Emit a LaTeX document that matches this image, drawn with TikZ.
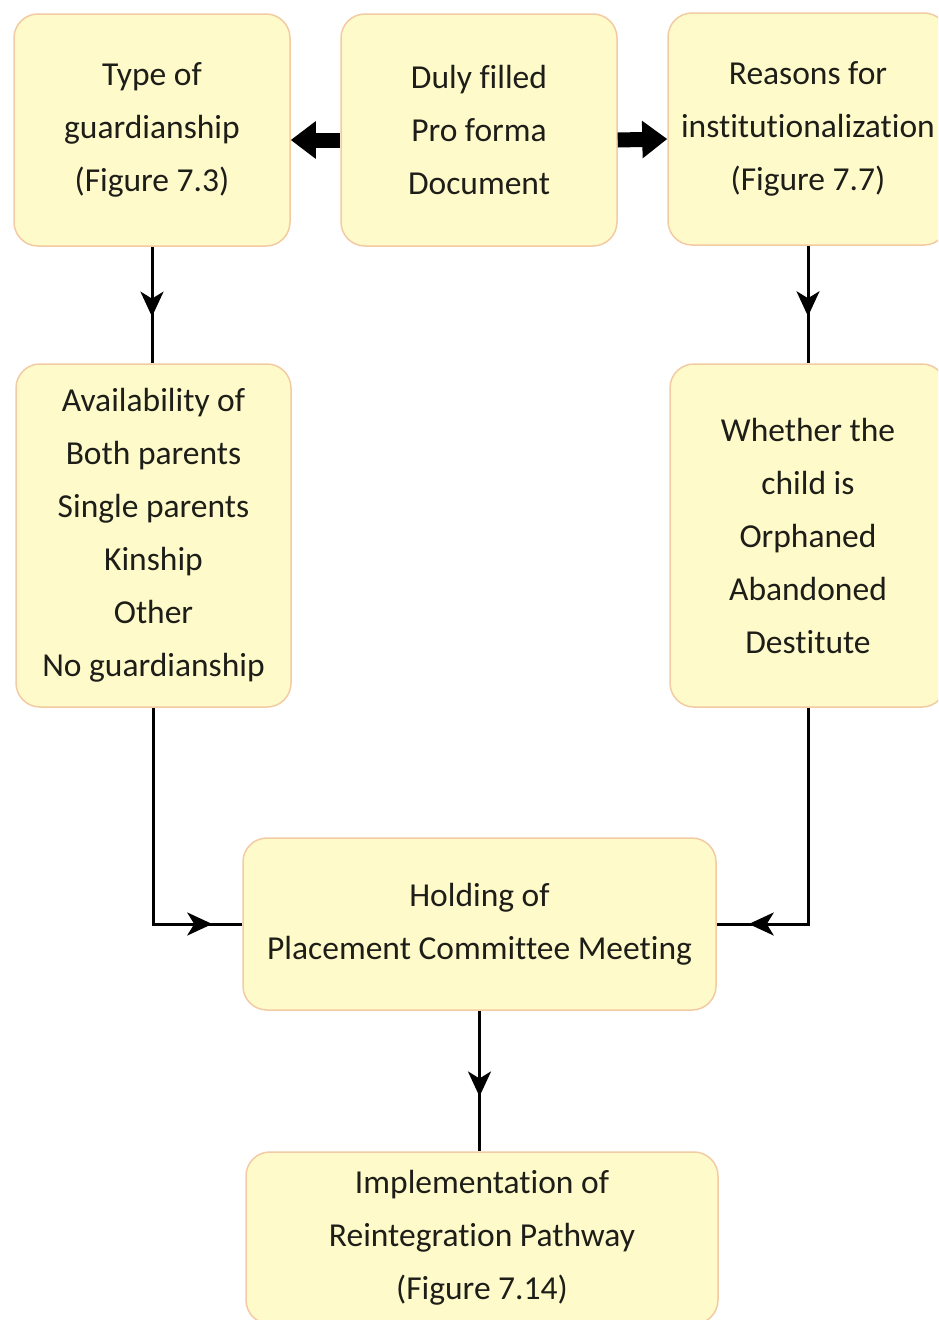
\documentclass[tikz,border=0pt]{standalone}
\usepackage{fontspec}
\setmainfont{Carlito}[Ligatures=NoCommon]
\usetikzlibrary{arrows.meta,decorations.markings}
\definecolor{boxfill}{RGB}{255,250,202}
\definecolor{boxedge}{RGB}{243,203,162}
\definecolor{inktext}{RGB}{30,30,25}

\begin{document}
\begin{tikzpicture}[x=1pt,y=-1pt,
  box/.style={draw=boxedge, fill=boxfill, line width=1.5pt, rounded corners=24pt,
    align=center, text=inktext, font=\fontsize{33.5}{53}\selectfont, inner sep=0pt},
  flow/.style={line width=3pt, postaction={decorate},
    decoration={markings, mark=at position #1 with {\arrow{Stealth[length=25pt,width=23pt,inset=7pt]}}}},
  bigarrow/.style={line width=15pt, -{Triangle[length=25pt,width=36pt]}}
]
\useasboundingbox (0,0) rectangle (938,1320);
\clip (0,0) rectangle (938,1320);

% top row
\node[box, minimum width=276pt, minimum height=232pt] (type) at (152,130)
  {Type of\\guardianship\\(Figure 7.3)};
\node[box, minimum width=276pt, minimum height=232pt] (duly) at (479,130)
  {Duly filled\\Pro forma\\Document};
\node[box, minimum width=280pt, minimum height=232pt] (reason) at (808,129)
  {Reasons for\\institutionalization\\(Figure 7.7)};

% second row
\node[box, minimum width=275pt, minimum height=343pt] (avail) at (153.5,535.5)
  {Availability of\\Both parents\\Single parents\\Kinship\\Other\\No guardianship};
\node[box, minimum width=276pt, minimum height=343pt] (whether) at (808,535.5)
  {Whether the\\child is\\Orphaned\\Abandoned\\Destitute};

% meeting and outcome
\node[box, minimum width=473pt, minimum height=172pt] (hold) at (479.5,924)
  {Holding of\\Placement Committee Meeting};
\node[box, minimum width=472pt, minimum height=172pt] (impl) at (482,1238)
  {Implementation of\\Reintegration Pathway\\(Figure 7.14)};

% thick arrows from the pro forma
\draw[bigarrow] ([yshift=-10pt]duly.west) -- ([yshift=-10pt]type.east);
\draw[bigarrow] ([yshift=-10pt]duly.east) -- ([yshift=-10pt]reason.west);

% thin connectors
\draw[flow=0.6] (type.south) -- (type.south |- avail.north);
\draw[flow=0.6] (reason.south) -- (reason.south |- whether.north);
\draw[flow=-30pt] (avail.south) |- (hold.west);
\draw[flow=-32pt] (whether.south) |- (hold.east);
\draw[flow=0.61] (hold.south) -- (hold.south |- impl.north);
\end{tikzpicture}
\end{document}
